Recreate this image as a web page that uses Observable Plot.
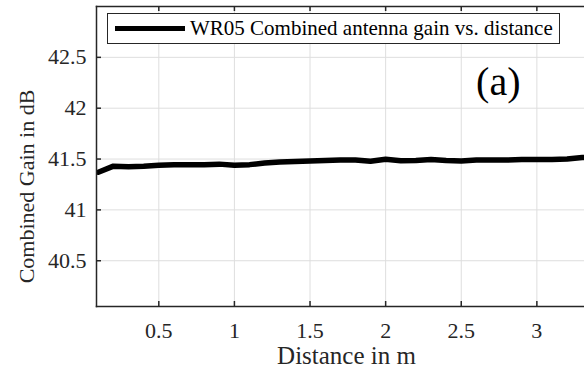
<!DOCTYPE html>
<html>
<head>
<meta charset="utf-8">
<script src="https://cdn.jsdelivr.net/npm/d3@7"></script>
<script src="https://cdn.jsdelivr.net/npm/@observablehq/plot@0.6"></script>
<style>
  html, body { margin: 0; padding: 0; background: #fff; overflow: hidden; }
  #wrap { position: relative; width: 584px; height: 376px; font-family: "Liberation Serif", "Times New Roman", serif; }
  #wrap svg, #wrap svg text, #wrap svg g { font-family: "Liberation Serif", "Times New Roman", serif !important; }
  #legend { position: absolute; left: 107px; top: 13px; width: 453px; height: 31px; box-sizing: border-box;
    border: 1px solid #262626; background: #fff; display: flex; align-items: center; font-size: 21px; color: #000; white-space: nowrap; }
  #legend .sw { width: 70px; height: 5px; background: #000; margin-left: 7px; margin-right: 5px; }
</style>
</head>
<body>
<div id="wrap"></div>
<script>
const distance = [0.1,0.2,0.3,0.4,0.5,0.6,0.7,0.8,0.9,1.0,1.1,1.2,1.3,1.4,1.5,1.6,1.7,1.8,1.9,2.0,2.1,2.2,2.3,2.4,2.5,2.6,2.7,2.8,2.9,3.0,3.1,3.2,3.3,3.4];
const gain = [41.37,41.43,41.425,41.43,41.44,41.445,41.445,41.445,41.45,41.44,41.445,41.46,41.47,41.475,41.48,41.485,41.49,41.49,41.478,41.497,41.483,41.485,41.495,41.485,41.48,41.49,41.49,41.49,41.495,41.495,41.495,41.5,41.515,41.52];
const xTicks = [0.5,1,1.5,2,2.5,3];
const yTicks = [40.5,41,41.5,42,42.5];
const xDomain = [0.088, 3.315];
const yDomain = [40.05, 43.0];
const legendLabel = "WR05 Combined antenna gain vs. distance";
const panelLabel = "(a)";
const xLabel = "Distance in m";
const yLabel = "Combined Gain in dB";

const data = distance.map((d, i) => ({d, g: gain[i]}));
const W = 584, H = 376, mL = 96, mT = 6, mB = 70, mR = 0;
const fw = W - mL - mR, fh = H - mT - mB;
const axisColor = "#262626";
const gridColor = "#dedede";
const serif = '"Liberation Serif", "Times New Roman", serif';

const chart = Plot.plot({
  width: W, height: H,
  marginLeft: mL, marginTop: mT, marginBottom: mB, marginRight: mR,
  style: {fontFamily: serif, fontSize: "22px", color: axisColor, background: "#fff"},
  x: {domain: xDomain},
  y: {domain: yDomain},
  marks: [
    Plot.ruleX(xTicks, {stroke: gridColor, strokeWidth: 1}),
    Plot.ruleY(yTicks, {stroke: gridColor, strokeWidth: 1}),
    Plot.line(data, {x: "d", y: "g", stroke: "#000", strokeWidth: 5.5, clip: true, strokeLinejoin: "round"}),
    Plot.tickX(xTicks, {x: d => d, stroke: axisColor, strokeWidth: 1.5, insetTop: fh - 5}),
    Plot.tickX(xTicks, {x: d => d, stroke: axisColor, strokeWidth: 1.5, insetBottom: fh - 5}),
    Plot.tickY(yTicks, {y: d => d, stroke: axisColor, strokeWidth: 1.5, insetRight: fw - 5}),
    Plot.frame({anchor: "left", stroke: axisColor, strokeWidth: 1.5}),
    Plot.frame({anchor: "top", stroke: axisColor, strokeWidth: 1.5}),
    Plot.frame({anchor: "bottom", stroke: axisColor, strokeWidth: 1.5}),
    Plot.axisX(xTicks, {tickSize: 0, tickPadding: 16, label: null, fontSize: 22, fill: axisColor, tickFormat: d => String(d)}),
    Plot.axisY(yTicks, {tickSize: 0, tickPadding: 10, label: null, fontSize: 22, fill: axisColor, tickFormat: d => String(d)}),
    Plot.text([panelLabel], {x: 2.745, y: 42.255, text: d => d, fontSize: 40, fill: "#000", textAnchor: "middle"}),
    Plot.text([xLabel], {frameAnchor: "bottom", textAnchor: "middle", lineAnchor: "middle", dx: 6, dy: 49, text: d => d, fontSize: 25, fill: axisColor}),
    Plot.text([yLabel], {frameAnchor: "left", textAnchor: "middle", lineAnchor: "middle", dx: -70, dy: 30, rotate: -90, text: d => d, fontSize: 22, fill: axisColor})
  ]
});

const wrap = document.getElementById("wrap");
wrap.appendChild(chart);
const leg = document.createElement("div");
leg.id = "legend";
leg.innerHTML = '<div class="sw"></div><span></span>';
leg.querySelector("span").textContent = legendLabel;
wrap.appendChild(leg);
</script>
</body>
</html>
